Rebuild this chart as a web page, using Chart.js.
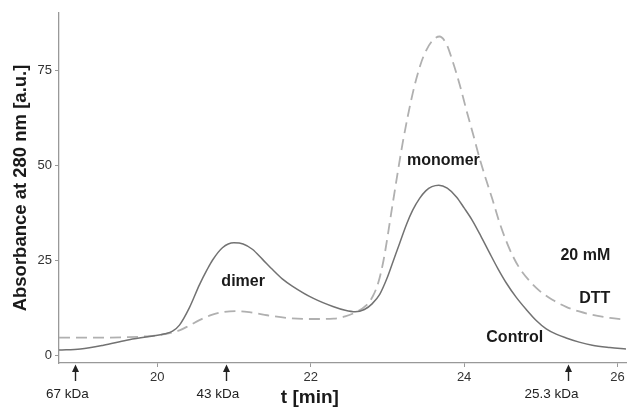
<!DOCTYPE html>
<html>
<head>
<meta charset="utf-8">
<script src="https://cdn.jsdelivr.net/npm/chart.js@4"></script>
<style>
html,body{margin:0;padding:0;background:#fff;}
#wrap{width:628px;height:409px;position:relative;}
</style>
</head>
<body>
<div id="wrap"><canvas id="c" width="628" height="409"></canvas></div>
<script>
// ---- data ----
const timeControl = [18.72, 19.0, 19.3, 19.6, 19.9, 20.1, 20.2, 20.29, 20.42, 20.55, 20.65, 20.72, 20.85, 21.0, 21.12, 21.24, 21.37, 21.5, 21.63, 21.76, 22.03, 22.29, 22.45, 22.58, 22.7, 22.8, 22.9, 23.0, 23.08, 23.16, 23.25, 23.33, 23.42, 23.5, 23.58, 23.67, 23.78, 23.9, 24.0, 24.11, 24.22, 24.33, 24.44, 24.55, 24.68, 24.81, 24.94, 25.07, 25.2, 25.33, 25.5, 25.67, 25.9, 26.11];
const absControl  = [1.3, 1.6, 2.6, 3.9, 4.9, 5.6, 6.3, 7.9, 12.5, 18.5, 22.5, 25.0, 28.3, 29.6, 29.3, 27.9, 25.3, 22.6, 20.1, 18.2, 15.0, 12.8, 11.8, 11.4, 12.0, 13.5, 16.0, 20.5, 25.0, 29.5, 34.5, 38.2, 41.3, 43.3, 44.4, 44.8, 44.0, 41.7, 38.8, 35.4, 31.3, 27.0, 22.8, 19.0, 15.2, 12.0, 9.1, 6.9, 5.5, 4.5, 3.4, 2.6, 2.0, 1.6];
const timeDTT = [18.72, 19.3, 19.6, 19.9, 20.1, 20.29, 20.42, 20.55, 20.7, 20.85, 21.03, 21.2, 21.4, 21.69, 22.03, 22.3, 22.45, 22.6, 22.72, 22.81, 22.88, 22.95, 23.07, 23.2, 23.33, 23.43, 23.51, 23.6, 23.68, 23.77, 23.85, 23.94, 24.03, 24.12, 24.2, 24.29, 24.37, 24.46, 24.55, 24.63, 24.72, 24.85, 24.98, 25.15, 25.33, 25.5, 25.67, 25.9, 26.11];
const absDTT  = [4.6, 4.6, 4.7, 5.0, 5.5, 6.5, 7.8, 9.2, 10.5, 11.3, 11.6, 11.3, 10.6, 9.8, 9.5, 9.6, 10.2, 11.4, 13.0, 15.5, 19.0, 25.0, 40.0, 56.0, 69.0, 76.5, 80.5, 83.2, 84.0, 82.0, 77.5, 71.5, 64.6, 58.0, 52.0, 46.0, 41.0, 35.0, 30.0, 26.3, 23.0, 19.6, 17.0, 14.6, 12.7, 11.5, 10.6, 9.8, 9.3];
const xTicks = [20, 22, 24, 26];
const yTicks = [0, 25, 50, 75];
const markerTimes = [18.93, 20.9, 25.35];
const markerLabelTimes = [18.83, 20.79, 25.14];
const markerLabels = ['67 kDa', '43 kDa', '25.3 kDa'];
const peakLabels = [
  {text: 'monomer', x: 23.73, y: 51.2, align: 'center'},
  {text: 'dimer', x: 21.12, y: 19.3, align: 'center'},
  {text: '20 mM', x: 25.905, y: 26.3, align: 'right'},
  {text: 'DTT', x: 25.905, y: 15.0, align: 'right'},
  {text: 'Control', x: 24.66, y: 4.5, align: 'center'}
];

const toPts = (xs, ys) => xs.map((x, i) => ({x: x, y: ys[i]}));

const overlay = {
  id: 'overlay',
  afterDraw(chart) {
    const ctx = chart.ctx;
    const xs = chart.scales.x, ys = chart.scales.y;
    ctx.save();
    ctx.fillStyle = '#1a1a1a';
    ctx.textBaseline = 'middle';
    ctx.font = 'bold 16px "Liberation Sans", Arial, sans-serif';
    peakLabels.forEach(l => {
      ctx.textAlign = l.align;
      ctx.fillText(l.text, xs.getPixelForValue(l.x), ys.getPixelForValue(l.y));
    });
    // markers
    ctx.textAlign = 'center';
    ctx.font = '13.5px "Liberation Sans", Arial, sans-serif';
    ctx.strokeStyle = '#222';
    ctx.fillStyle = '#222';
    ctx.lineWidth = 1.4;
    markerTimes.forEach((t, i) => {
      const px = Math.round(xs.getPixelForValue(t)) + 0.5;
      ctx.beginPath();
      ctx.moveTo(px, 381);
      ctx.lineTo(px, 370);
      ctx.stroke();
      ctx.beginPath();
      ctx.moveTo(px, 364.5);
      ctx.lineTo(px - 3.5, 372);
      ctx.lineTo(px + 3.5, 372);
      ctx.closePath();
      ctx.fill();
      ctx.fillText(markerLabels[i], xs.getPixelForValue(markerLabelTimes[i]), 394);
    });
    // axis titles
    ctx.fillStyle = '#1a1a1a';
    ctx.font = 'bold 19px "Liberation Sans", Arial, sans-serif';
    ctx.fillText('t [min]', xs.getPixelForValue(21.99), 398);
    ctx.font = 'bold 18.5px "Liberation Sans", Arial, sans-serif';
    ctx.translate(21, 188);
    ctx.rotate(-Math.PI / 2);
    ctx.fillText('Absorbance at 280 nm [a.u.]', 0, 0);
    ctx.restore();
  }
};

new Chart(document.getElementById('c'), {
  type: 'line',
  data: {
    datasets: [
      {label: 'Control', data: toPts(timeControl, absControl), borderColor: '#727272', borderWidth: 1.5, pointRadius: 0, cubicInterpolationMode: 'monotone', fill: false},
      {label: '20 mM DTT', data: toPts(timeDTT, absDTT), borderColor: '#b0b0b0', borderWidth: 1.8, borderDash: [11, 6], pointRadius: 0, cubicInterpolationMode: 'monotone', fill: false}
    ]
  },
  options: {
    responsive: false,
    animation: false,
    layout: {padding: {top: 13, right: 2, left: 0, bottom: 0}},
    plugins: {legend: {display: false}, tooltip: {enabled: false}},
    scales: {
      x: {
        type: 'linear', min: 18.72, max: 26.11,
        afterBuildTicks: s => { s.ticks = xTicks.map(v => ({value: v})); },
        afterFit: s => { s.height = 46; },
        grid: {display: true, drawOnChartArea: false, drawTicks: true, tickLength: 4, color: '#999'},
        border: {display: true, color: '#999', width: 1.3},
        ticks: {color: '#333', font: {size: 13, family: '"Liberation Sans", Arial, sans-serif'}, padding: 3, maxRotation: 0}
      },
      y: {
        min: -2.1, max: 90.2,
        afterBuildTicks: s => { s.ticks = yTicks.map(v => ({value: v})); },
        afterFit: s => { s.width = 59; },
        grid: {display: true, drawOnChartArea: false, drawTicks: true, tickLength: 4, color: '#999'},
        border: {display: true, color: '#999', width: 1.3},
        ticks: {color: '#333', font: {size: 13, family: '"Liberation Sans", Arial, sans-serif'}, padding: 3}
      }
    }
  },
  plugins: [overlay]
});
</script>
</body>
</html>
